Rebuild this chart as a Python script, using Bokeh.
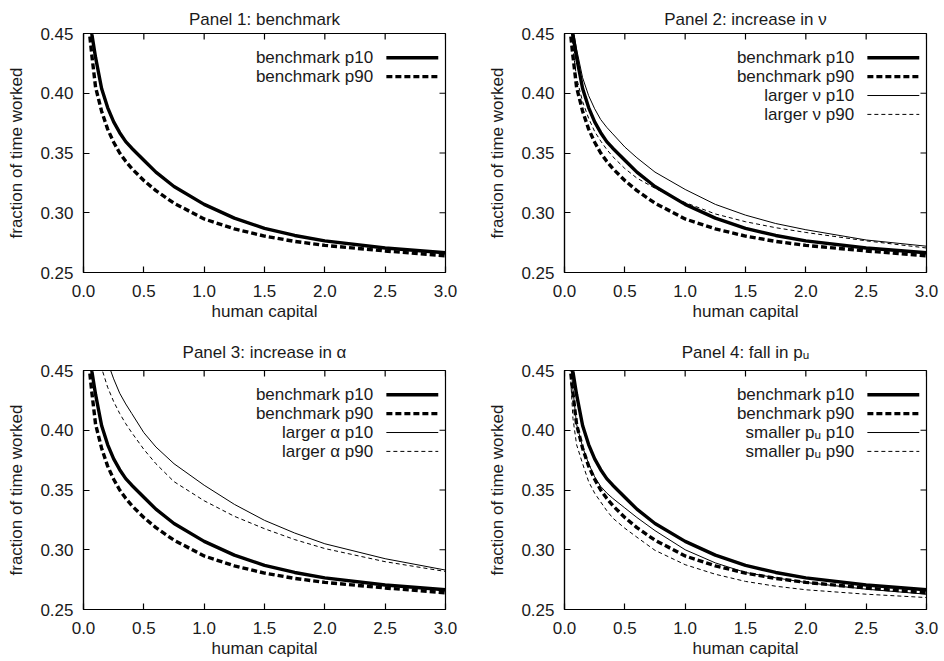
import math
from bokeh.plotting import figure
from bokeh.models import Range1d, FixedTicker, PrintfTickFormatter, Label, ColumnDataSource
from bokeh.layouts import column, row
from bokeh.embed import file_html
from bokeh.resources import INLINE

# ---------------- data ----------------
human_capital = [0.04, 0.05, 0.07, 0.1, 0.15, 0.2, 0.25, 0.3, 0.35, 0.4, 0.5, 0.6, 0.75,
                 1.0, 1.25, 1.5, 1.75, 2.0, 2.5, 3.0]

bench_p10 = [0.49, 0.47, 0.449, 0.43, 0.404, 0.388, 0.376, 0.367, 0.3595, 0.354, 0.344, 0.334, 0.322,
             0.307, 0.2955, 0.287, 0.281, 0.2765, 0.2705, 0.2665]
bench_p90 = [0.47, 0.45, 0.431, 0.405, 0.385, 0.370, 0.359, 0.350, 0.343, 0.337, 0.327, 0.3185, 0.308,
             0.2948, 0.2865, 0.2805, 0.276, 0.2727, 0.268, 0.264]

nu_p10 = [0.50, 0.475, 0.454, 0.437, 0.413, 0.398, 0.387, 0.378, 0.3715, 0.366, 0.355, 0.346, 0.334,
          0.3195, 0.307, 0.298, 0.291, 0.2858, 0.2772, 0.272]
nu_p90 = [0.48, 0.46, 0.437, 0.413, 0.393, 0.379, 0.368, 0.360, 0.353, 0.347, 0.337, 0.329, 0.3205,
          0.3085, 0.299, 0.2925, 0.2875, 0.2835, 0.2765, 0.2705]

alpha_p10 = [0.56, 0.55, 0.53, 0.50, 0.475, 0.457, 0.443, 0.431, 0.422, 0.414, 0.398, 0.386, 0.372,
             0.354, 0.338, 0.3246, 0.314, 0.305, 0.2925, 0.283]
alpha_p90 = [0.53, 0.52, 0.50, 0.475, 0.452, 0.436, 0.424, 0.414, 0.4055, 0.398, 0.384, 0.372, 0.357,
             0.341, 0.328, 0.3176, 0.3085, 0.301, 0.290, 0.2818]

pu_p10 = [0.48, 0.46, 0.434, 0.405, 0.386, 0.372, 0.361, 0.353, 0.3475, 0.343, 0.335, 0.327, 0.316,
          0.300, 0.289, 0.281, 0.2765, 0.2726, 0.267, 0.2628]
pu_p90 = [0.47, 0.445, 0.41, 0.388, 0.372, 0.357, 0.3473, 0.340, 0.3328, 0.3265, 0.318, 0.3105, 0.2995,
          0.2875, 0.2795, 0.2735, 0.2695, 0.2665, 0.2628, 0.260]

x_ticks = [0.0, 0.5, 1.0, 1.5, 2.0, 2.5, 3.0]
y_ticks = [0.25, 0.30, 0.35, 0.40, 0.45]

titles = ["Panel 1: benchmark", "Panel 2: increase in \u03bd",
          "Panel 3: increase in \u03b1", "Panel 4: fall in p\u1d64"]
alt_names = [None, "larger \u03bd", "larger \u03b1", "smaller p\u1d64"]
alt_p10 = [None, nu_p10, alpha_p10, pu_p10]
alt_p90 = [None, nu_p90, alpha_p90, pu_p90]

# ---------------- style ----------------
FONT = "Liberation Sans"
FS = "17px"
TXT = "#1a1a1a"
STYLES = [dict(line_width=3.4, line_dash="solid"),
          dict(line_width=3.4, line_dash="6 3"),
          dict(line_width=1.0, line_dash="solid"),
          dict(line_width=1.0, line_dash="4 3")]
LEG_TEXT_X = 2.40
LEG_X0, LEG_X1 = 2.51, 2.94
LEG_Y0, LEG_DY = 0.4297, 0.0158
TICK_LEN = 6


def make_panel(i, width, height, bl, br, bt, bb, t_align, t_standoff):
    xr, yr = Range1d(0, 3), Range1d(0.25, 0.45)
    p = figure(width=width, height=height, x_range=xr, y_range=yr,
               output_backend="svg", toolbar_location=None, title=titles[i],
               min_border_left=bl, min_border_right=br, min_border_top=bt, min_border_bottom=bb)
    p.title.align = "center"
    p.title.vertical_align = t_align
    p.title.text_font = FONT
    p.title.text_font_size = FS
    p.title.text_font_style = "normal"
    p.title.text_color = TXT
    p.title.standoff = t_standoff
    p.xgrid.visible = False
    p.ygrid.visible = False
    p.outline_line_color = "black"
    p.outline_line_width = 1.2
    p.background_fill_color = "white"
    p.border_fill_color = "white"

    p.xaxis.ticker = FixedTicker(ticks=x_ticks)
    p.xaxis.formatter = PrintfTickFormatter(format="%.1f")
    p.yaxis.ticker = FixedTicker(ticks=y_ticks)
    p.yaxis.formatter = PrintfTickFormatter(format="%.2f")
    p.xaxis.axis_label = "human capital"
    p.yaxis.axis_label = "fraction of time worked"
    for ax in (p.xaxis[0], p.yaxis[0]):
        ax.major_tick_in = TICK_LEN
        ax.major_tick_out = 0
        ax.minor_tick_in = 0
        ax.minor_tick_out = 0
        ax.axis_line_color = "black"
        ax.axis_line_width = 1.2
        ax.major_tick_line_color = "black"
        ax.major_tick_line_width = 1.2
        ax.major_label_text_font = FONT
        ax.major_label_text_font_size = FS
        ax.major_label_text_color = TXT
        ax.axis_label_text_font = FONT
        ax.axis_label_text_font_size = FS
        ax.axis_label_text_font_style = "normal"
        ax.axis_label_text_color = TXT
    p.xaxis.major_label_standoff = 12
    p.xaxis.axis_label_standoff = 2
    p.yaxis.major_label_standoff = 10
    p.yaxis.axis_label_standoff = 11

    # mirrored inward ticks on the top and right edges of the frame
    p.ray(x=x_ticks, y=[yr.end] * len(x_ticks), length=TICK_LEN, length_units="screen",
          angle=-math.pi / 2, color="black", line_width=1.2)
    p.ray(x=[xr.end] * len(y_ticks), y=y_ticks, length=TICK_LEN, length_units="screen",
          angle=math.pi, color="black", line_width=1.2)

    series = [bench_p10, bench_p90]
    labels = ["benchmark p10", "benchmark p90"]
    if alt_names[i] is not None:
        series += [alt_p10[i], alt_p90[i]]
        labels += [alt_names[i] + " p10", alt_names[i] + " p90"]

    for k, ys in enumerate(series):
        st = STYLES[k]
        src = ColumnDataSource(dict(x=human_capital, y=ys))
        p.line("x", "y", source=src, color="black", line_width=st["line_width"],
               line_dash=st["line_dash"], line_join="round")
        yk = LEG_Y0 - k * LEG_DY
        p.add_layout(Label(x=LEG_TEXT_X, y=yk, text=labels[k], text_align="right",
                           text_baseline="middle", text_font=FONT, text_font_size=FS,
                           text_color=TXT))
        lsrc = ColumnDataSource(dict(x0=[LEG_X0], x1=[LEG_X1], y0=[yk], y1=[yk]))
        p.segment("x0", "y0", "x1", "y1", source=lsrc, color="black",
                  line_width=st["line_width"], line_dash=st["line_dash"])
    return p


p1 = make_panel(0, 472, 330, 83, 27, 33, 58, "top", 5)
p2 = make_panel(1, 472, 330, 92, 18, 33, 58, "top", 5)
p3 = make_panel(2, 472, 331, 83, 27, 40, 52, "bottom", 17)
p4 = make_panel(3, 472, 331, 92, 18, 40, 52, "bottom", 17)

layout = column(row(p1, p2), row(p3, p4))
open("out.html", "w").write(file_html(layout, INLINE))
